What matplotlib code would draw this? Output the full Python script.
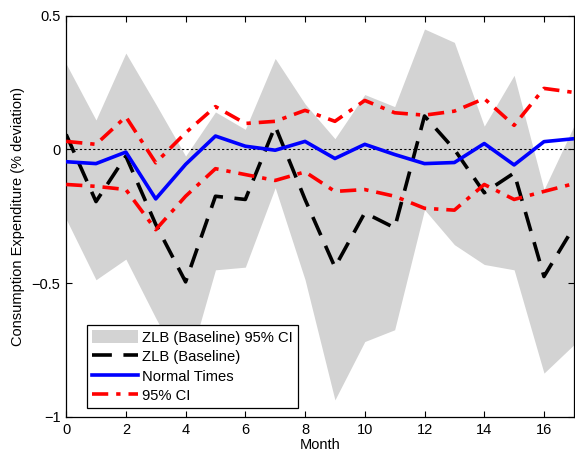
import matplotlib
matplotlib.use("Agg")
import matplotlib.pyplot as plt
import numpy as np

plt.rcParams['font.family'] = ['Liberation Sans', 'DejaVu Sans']

months = list(range(18))

zlb_ci_upper = [0.32, 0.11, 0.36, 0.17, -0.025, 0.14, 0.075, 0.34, 0.17, 0.04,
                0.205, 0.16, 0.45, 0.40, 0.087, 0.277, -0.15, 0.087]
zlb_ci_lower = [-0.26, -0.487, -0.41, -0.63, -0.84, -0.45, -0.44, -0.143, -0.487, -0.936,
                -0.718, -0.674, -0.225, -0.356, -0.43, -0.45, -0.836, -0.73]
zlb_baseline = [0.056, -0.195, -0.025, -0.28, -0.495, -0.175, -0.187, 0.087, -0.187, -0.44,
                -0.237, -0.293, 0.125, 0.0, -0.162, -0.088, -0.475, -0.29]
normal_times = [-0.046, -0.053, -0.01, -0.185, -0.056, 0.05, 0.012, -0.003, 0.03, -0.034,
                0.019, -0.019, -0.053, -0.049, 0.022, -0.058, 0.029, 0.04]
normal_ci_upper = [0.03, 0.019, 0.122, -0.05, 0.062, 0.16, 0.097, 0.105, 0.146, 0.105,
                   0.183, 0.137, 0.128, 0.143, 0.19, 0.09, 0.228, 0.213]
normal_ci_lower = [-0.131, -0.138, -0.15, -0.30, -0.175, -0.072, -0.094, -0.116, -0.084, -0.157,
                   -0.15, -0.175, -0.22, -0.227, -0.131, -0.187, -0.157, -0.128]

x_ticks = [0, 2, 4, 6, 8, 10, 12, 14, 16]
y_ticks = [-1, -0.5, 0, 0.5]
y_tick_labels = ['\u22121', '\u22120.5', '0', '0.5']

fig = plt.figure(figsize=(5.75, 4.53), dpi=100)
ax = fig.add_axes([0.115, 0.0795, 0.883, 0.886])

ax.fill_between(months, zlb_ci_lower, zlb_ci_upper, color='#d3d3d3', linewidth=0,
                label='ZLB (Baseline) 95% CI', zorder=1)
ax.axhline(0, color='black', linestyle=(0, (2, 2)), linewidth=0.8, zorder=2)
ax.plot(months, zlb_baseline, color='black', linewidth=2.6, dashes=(5.5, 3.2),
        label='ZLB (Baseline)', zorder=3)
ax.plot(months, normal_times, color='blue', linewidth=2.6, label='Normal Times', zorder=4)
ax.plot(months, normal_ci_upper, color='red', linewidth=2.6, dashes=(4.5, 2.2, 1.2, 2.2),
        label='95% CI', zorder=4)
ax.plot(months, normal_ci_lower, color='red', linewidth=2.6, dashes=(4.5, 2.2, 1.2, 2.2),
        zorder=4)

ax.set_xlim(0, 17)
ax.set_ylim(-1, 0.5)
ax.set_xticks(x_ticks)
ax.set_yticks(y_ticks)
ax.set_yticklabels(y_tick_labels)
ax.tick_params(direction='in', top=True, right=True, labelsize=10.5, length=4, width=0.8, pad=4)
for s in ax.spines.values():
    s.set_linewidth(0.9)

ax.set_xlabel('Month', fontsize=10.5, labelpad=1)
ax.set_ylabel('Consumption Expenditure (% deviation)', fontsize=10.5, labelpad=5)

leg = ax.legend(loc='lower left', bbox_to_anchor=(0.041, 0.022), borderaxespad=0,
                fontsize=10.6, handlelength=3.1, handleheight=0.9, handletextpad=0.3,
                labelspacing=0.36, borderpad=0.35, fancybox=False, framealpha=1,
                edgecolor='black')
leg.get_frame().set_linewidth(0.9)
leg.set_zorder(10)

fig.savefig('out.png', dpi=100)
